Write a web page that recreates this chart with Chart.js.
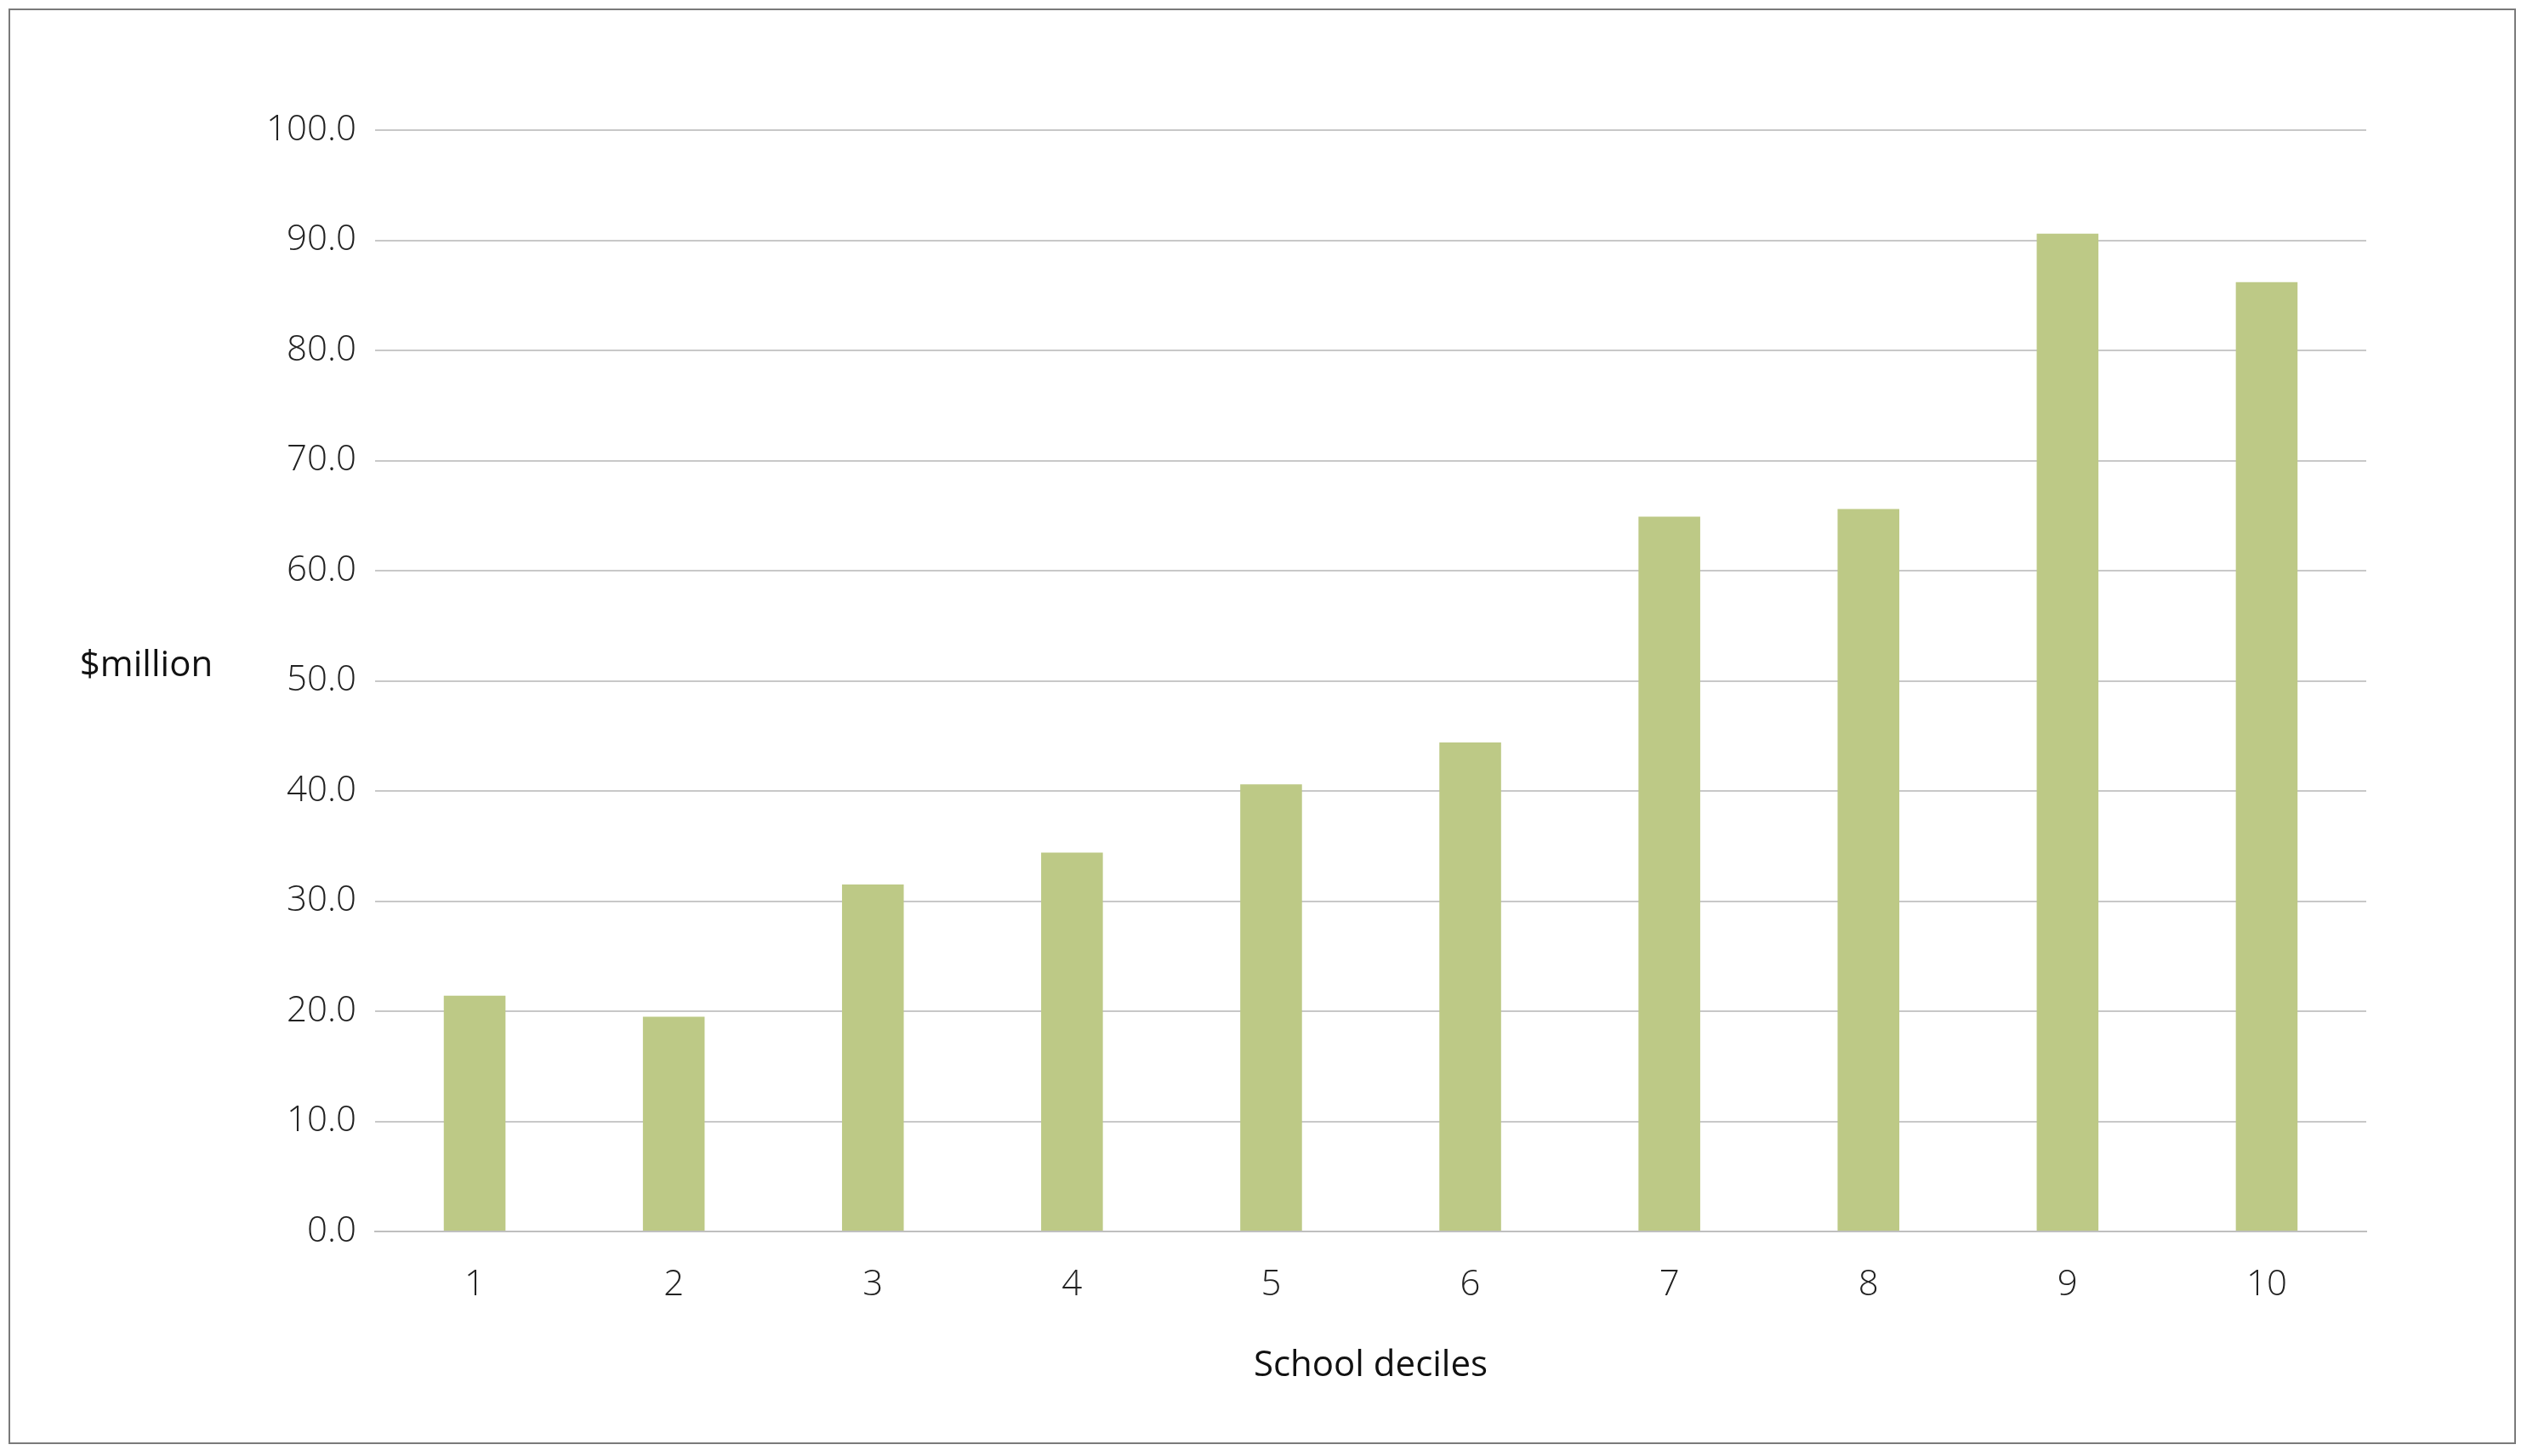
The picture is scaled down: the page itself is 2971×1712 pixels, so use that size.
<!DOCTYPE html>
<html>
<head>
<meta charset="utf-8">
<script src="https://cdn.jsdelivr.net/npm/chart.js@4"></script>
<style>
  html, body { margin: 0; padding: 0; background: #fff; }
  #wrap { position: relative; width: 2971px; height: 1712px; }
  #frame { position: absolute; left: 10px; top: 10px; width: 2944px; height: 1684px; border: 2px solid #7a7a7a; }
  canvas { position: absolute; left: 0; top: 0; }
</style>
</head>
<body>
<div id="wrap">
  <div id="frame"></div>
  <canvas id="chart" width="2971" height="1712"></canvas>
</div>
<script>
// ----------- Data -----------
const deciles = ["1", "2", "3", "4", "5", "6", "7", "8", "9", "10"];
const funding = [21.4, 19.5, 31.5, 34.4, 40.6, 44.4, 64.9, 65.6, 90.6, 86.2];
const yTitle = "$million";
const xTitle = "School deciles";

const tickFont = { family: "'Open Sans', 'Noto Sans', sans-serif", size: 42, weight: 300 };

// axis titles drawn at fixed spots around the plot
const axisTitles = {
  id: "axisTitles",
  afterDraw(chart) {
    const { ctx, chartArea } = chart;
    ctx.save();
    ctx.fillStyle = "#111";
    ctx.font = "500 42px 'Open Sans', 'Noto Sans', sans-serif";
    ctx.textAlign = "center";
    ctx.textBaseline = "middle";
    ctx.fillText(yTitle, 172, 783);
    ctx.fillText(xTitle, (chartArea.left + chartArea.right) / 2, 1606);
    ctx.restore();
  }
};

new Chart(document.getElementById("chart"), {
  type: "bar",
  data: {
    labels: deciles,
    datasets: [{ data: funding, backgroundColor: "#bdc986", categoryPercentage: 1, barPercentage: 0.31 }]
  },
  options: {
    responsive: false,
    animation: false,
    layout: { padding: { top: 153, right: 189, left: 0, bottom: 0 } },
    plugins: { legend: { display: false }, tooltip: { enabled: false } },
    scales: {
      x: {
        grid: { display: false },
        border: { color: "#bfbfbf", width: 2 },
        ticks: { font: tickFont, color: "#222", padding: 30 },
        afterFit: s => { s.height = 264; }
      },
      y: {
        min: 0, max: 100,
        grid: { color: "#c8c8c8", lineWidth: 2, drawTicks: false },
        border: { display: false },
        ticks: { stepSize: 10, font: tickFont, color: "#222", padding: 22, callback: v => v.toFixed(1) },
        afterFit: s => { s.width = 441; }
      }
    }
  },
  plugins: [axisTitles]
});
</script>
</body>
</html>
